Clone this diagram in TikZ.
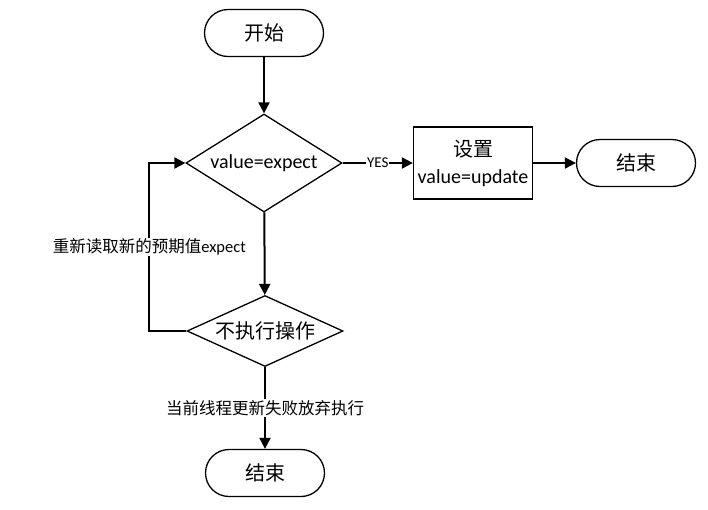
\documentclass[tikz,border=0pt]{standalone}
\usepackage{fontspec}
\setmainfont{Carlito}
\newfontfamily\cjk{Noto Sans CJK SC}
\usetikzlibrary{arrows.meta,shapes.geometric}

\begin{document}
\begin{tikzpicture}[x=1pt,y=-1pt,
  terminal/.style={draw,line width=1.3pt,rectangle,rounded corners=23.5pt,minimum width=119pt,minimum height=47pt,font=\fontsize{20}{24}\selectfont\cjk},
  decision/.style={draw,line width=1.3pt,diamond,inner sep=0pt,minimum width=156pt,font=\fontsize{20}{24}\selectfont},
  process/.style={draw,line width=1.3pt,rectangle,minimum width=119pt,minimum height=72pt,align=center,font=\fontsize{20}{27}\selectfont},
  flow/.style={line width=2pt,-{Triangle[length=11pt,width=11pt]}},
  note/.style={fill=white,inner sep=1pt,font=\fontsize{16.5}{20}\selectfont}]
  \useasboundingbox (0,0) rectangle (708,509);
  % nodes
  \node[terminal] (start) at (264,33) {开始};
  \node[decision,shape aspect=1.59,minimum height=98pt] (check) at (264,163) {value=expect};
  \node[process] (set) at (473,163) {{\cjk 设置}\\value=update};
  \node[terminal] (done) at (636,163) {结束};
  \node[decision,shape aspect=2.2,minimum height=71pt,font=\fontsize{20}{24}\selectfont\cjk] (skip) at (265,331) {不执行操作};
  \node[terminal] (quit) at (265,473) {结束};
  % connectors
  \draw[flow] (start) -- (check);
  \draw[flow] (check) -- node[fill=white,inner sep=1pt,font=\fontsize{15}{17}\selectfont] {YES} (set);
  \draw[flow] (set) -- (done);
  \draw[flow] (check) -- (skip);
  \draw[flow] (skip.west) -- ++(-37,0) |- node[note,pos=0.25] {{\cjk 重新读取新的预期值}expect} (check.west);
  \draw[flow] (skip) -- node[note,font=\fontsize{16.5}{20}\selectfont\cjk] {当前线程更新失败放弃执行} (quit);
\end{tikzpicture}
\end{document}
